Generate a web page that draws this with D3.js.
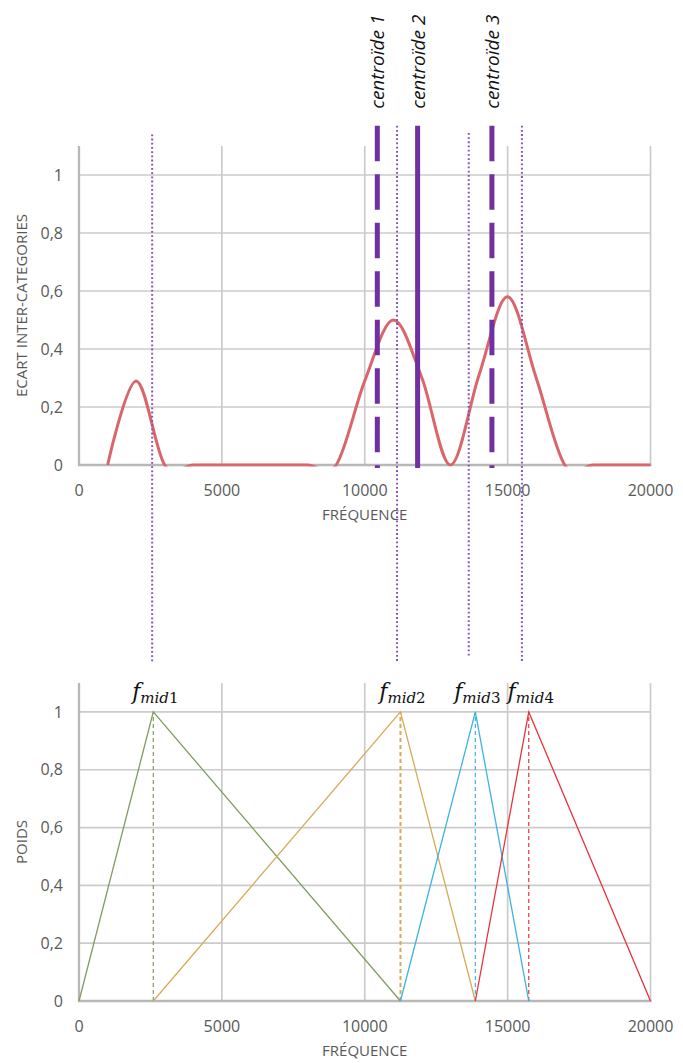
<!DOCTYPE html>
<html>
<head>
<meta charset="utf-8">
<script src="https://cdn.jsdelivr.net/npm/d3@7"></script>
<style>
  html, body { margin: 0; padding: 0; background: #fff; }
  svg { display: block; }
</style>
</head>
<body>
<svg id="chart" width="683" height="1063"></svg>
<script>
// ---- top chart: inter-category gap along frequency ----
const freqs = [1000, 2000, 3000, 4000, 5000, 6000, 7000, 8000, 9000, 10000,
               11000, 12000, 13000, 14000, 15000, 16000, 17000, 18000, 19000, 20000];
const ecart = [0, 0.29, 0, 0, 0, 0, 0, 0, 0, 0.29,
               0.50, 0.30, 0, 0.31, 0.58, 0.30, 0, 0, 0, 0];

// centroid positions (Hz) and their label/style
const centroidFreqs = [10440, 11850, 14450];
const centroidNames = ["centroïde 1", "centroïde 2", "centroïde 3"];
const centroidDashed = [true, false, true];
const centroidSpan = [-0.01, 1.17];

// dotted guides linking both charts (Hz, top/bottom in top-chart units)
const guideFreqs = [2560, 11130, 13640, 15500];
const guideTops = [1.14, 1.17, 1.145, 1.17];
const guideBottoms = [-0.68, -0.68, -0.665, -0.68];

// ---- bottom chart: triangular weighting bands ----
const bandEdges = [0, 2600, 11250, 13870, 15740, 20000];
const bandIndex = ["1", "2", "3", "4"];
const bandColors = ["#7f9e5e", "#d6ab58", "#3db3e3", "#e8323a"];

// axis ticks
const xTicks = [0, 5000, 10000, 15000, 20000];
const yTicks = [0, 0.2, 0.4, 0.6, 0.8, 1];

const svg = d3.select("#chart");
svg.append("rect").attr("width", 683).attr("height", 1063).attr("fill", "#fff");

const x = d3.scaleLinear().domain([0, 20000]).range([79, 650.5]);
const yTop = d3.scaleLinear().domain([0, 1.1]).range([465, 146]);
const yBot = d3.scaleLinear().domain([0, 1.1]).range([1001, 683]);

const fmtY = d => d === 0 ? "0" : (d === 1 ? "1" : d3.format(".1f")(d).replace(".", ","));
const FONT = "'Open Sans', 'Noto Sans', sans-serif";
const GRID = "#cbcbcb";
const AXIS = "#b8b8b8";
const TXT = "#595959";

function frame(y, yTitle, prefix) {
  const g = svg.append("g").attr("class", prefix + "-frame");
  // horizontal gridlines
  g.selectAll("line.h").data(yTicks.filter(d => d > 0)).join("line")
    .attr("x1", x(0)).attr("x2", x(20000))
    .attr("y1", d => y(d)).attr("y2", d => y(d))
    .attr("stroke", GRID).attr("stroke-width", 1.7);
  // vertical gridlines
  g.selectAll("line.v").data(xTicks.filter(d => d > 0)).join("line")
    .attr("x1", d => x(d)).attr("x2", d => x(d))
    .attr("y1", y(0)).attr("y2", y(1.1))
    .attr("stroke", GRID).attr("stroke-width", 1.7);
  // axis lines
  g.append("line").attr("x1", x(0)).attr("x2", x(0)).attr("y1", y(0) + 1).attr("y2", y(1.1))
    .attr("stroke", AXIS).attr("stroke-width", 2.3);
  g.append("line").attr("x1", x(0) - 1).attr("x2", x(20000) + 1).attr("y1", y(0)).attr("y2", y(0))
    .attr("stroke", AXIS).attr("stroke-width", 2.3);
  // tick labels
  g.selectAll("text.yt").data(yTicks).join("text")
    .attr("x", 63).attr("y", d => y(d)).attr("dy", "0.35em")
    .attr("text-anchor", "end").attr("font-family", FONT).attr("font-size", 16)
    .attr("fill", TXT).text(fmtY);
  g.selectAll("text.xt").data(xTicks).join("text")
    .attr("x", d => x(d)).attr("y", y(0) + 25).attr("dy", "0.35em")
    .attr("text-anchor", "middle").attr("font-family", FONT).attr("font-size", 16)
    .attr("fill", TXT).text(d => d);
  // axis titles
  g.append("text").attr("x", (x(0) + x(20000)) / 2).attr("y", y(0) + 50).attr("dy", "0.35em")
    .attr("text-anchor", "middle").attr("font-family", FONT).attr("font-size", 15)
    .attr("fill", TXT).text("FRÉQUENCE");
  g.append("text")
    .attr("transform", `translate(22,${(y(0) + y(1.1)) / 2}) rotate(-90)`)
    .attr("dy", "0.35em").attr("text-anchor", "middle").attr("font-family", FONT)
    .attr("font-size", 15).attr("fill", TXT).text(yTitle);
}

frame(yTop, "ECART INTER-CATEGORIES", "top");
frame(yBot, "POIDS", "bot");

// ---- top chart curve (smoothed, clipped at the axis) ----
svg.append("clipPath").attr("id", "clipTop").append("rect")
  .attr("x", x(0)).attr("y", yTop(1.1)).attr("width", x(20000) - x(0) + 2)
  .attr("height", yTop(0) - yTop(1.1) + 1.6);

const curveLine = d3.line()
  .x((d, i) => x(freqs[i]))
  .y(d => yTop(d))
  .curve(d3.curveCardinal.tension(0));

svg.append("path").attr("clip-path", "url(#clipTop)")
  .attr("d", curveLine(ecart))
  .attr("fill", "none").attr("stroke", "#d9666a").attr("stroke-width", 3)
  .attr("stroke-linejoin", "round");

// dotted guides
svg.selectAll("line.guide").data(guideFreqs).join("line")
  .attr("x1", d => x(d)).attr("x2", d => x(d))
  .attr("y1", (d, i) => yTop(guideTops[i])).attr("y2", (d, i) => yTop(guideBottoms[i]))
  .attr("stroke", "#8650c0").attr("stroke-width", 2).attr("stroke-dasharray", "1.8,2.4");

// centroid bars
svg.selectAll("line.centroid").data(centroidFreqs).join("line")
  .attr("x1", d => x(d)).attr("x2", d => x(d))
  .attr("y1", yTop(centroidSpan[1])).attr("y2", yTop(centroidSpan[0]))
  .attr("stroke", "#7030a0").attr("stroke-width", 5)
  .attr("stroke-dasharray", (d, i) => centroidDashed[i] ? "35.5,13" : null);

svg.selectAll("text.centroid").data(centroidFreqs).join("text")
  .attr("transform", d => `translate(${x(d) + 7},${yTop(centroidSpan[1]) - 17}) rotate(-90)`)
  .attr("font-family", FONT).attr("font-style", "italic").attr("font-size", 19)
  .attr("fill", "#111").text((d, i) => centroidNames[i]);

// ---- bottom chart: triangles and centre markers ----
const bands = bandIndex.map((name, k) => ({
  name, color: bandColors[k],
  pts: [[bandEdges[k], 0], [bandEdges[k + 1], 1], [bandEdges[k + 2], 0]]
}));

const triLine = d3.line().x(d => x(d[0])).y(d => yBot(d[1]));

svg.selectAll("line.mid").data(bands).join("line")
  .attr("x1", d => x(d.pts[1][0])).attr("x2", d => x(d.pts[1][0]))
  .attr("y1", yBot(0)).attr("y2", yBot(1))
  .attr("stroke", d => d.color).attr("stroke-width", (d, i) => i === 1 ? 2 : 1.2)
  .attr("stroke-dasharray", "4,3");

svg.selectAll("path.band").data(bands).join("path")
  .attr("d", d => triLine(d.pts))
  .attr("fill", "none").attr("stroke", d => d.color).attr("stroke-width", 1.3);

// centre labels  f_mid k
const SERIF = "'DejaVu Serif', 'Liberation Serif', serif";
const lab = svg.selectAll("text.fmid").data(bands).join("text")
  .attr("x", d => x(d.pts[1][0]) + 2).attr("y", yBot(1) - 13)
  .attr("text-anchor", "middle").attr("font-family", SERIF).attr("fill", "#111");
lab.append("tspan").attr("font-style", "italic").attr("font-size", 22).text("f");
lab.append("tspan").attr("font-style", "italic").attr("font-size", 15).attr("dy", 4).text("mid");
lab.append("tspan").attr("font-size", 15).text(d => d.name);
</script>
</body>
</html>
